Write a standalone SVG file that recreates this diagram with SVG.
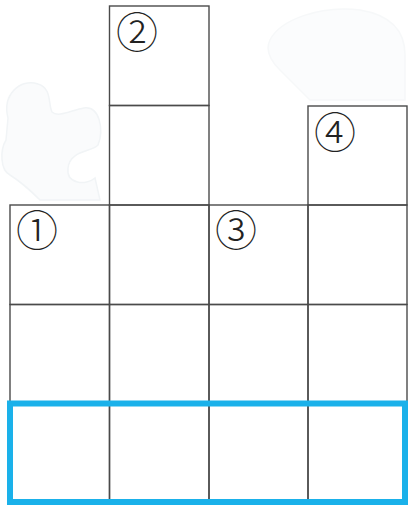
<svg xmlns="http://www.w3.org/2000/svg" width="408" height="506" viewBox="0 0 408 506">
<style>
.g{fill:none;stroke:#4a4a4a;stroke-width:1.4}
.n{font-family:"Noto Sans CJK SC","DejaVu Sans",sans-serif;font-size:42px;font-weight:300;fill:#222;text-anchor:middle;dominant-baseline:central}
.bg{fill:#fafbfc;stroke:#f1f4f6;stroke-width:1.5}
</style>
<rect width="408" height="506" fill="#fff"/>
<g id="background">
<path class="bg" d="M8,118 C2,95 20,78 38,84 C52,88 48,104 52,112 C58,118 72,110 84,108 C100,106 104,130 98,145 C92,152 70,150 68,168 C66,184 86,186 95,178 L100,200 L40,200 C30,190 18,180 10,175 C0,170 0,150 6,140 Z"/>
<path class="bg" d="M270,40 C280,20 320,5 360,10 C390,15 405,30 405,55 L405,100 L310,100 C300,90 290,80 280,70 C270,60 265,50 270,40 Z" opacity="0.6"/>
</g>
<g id="grid">
<rect class="g" x="109.5" y="6" width="99.5" height="99.5"/>
<rect class="g" x="109.5" y="105.5" width="99.5" height="99.5"/>
<rect class="g" x="308" y="106" width="99" height="99"/>
<rect class="g" x="10" y="205" width="99.5" height="99.5"/>
<rect class="g" x="109.5" y="205" width="99.5" height="99.5"/>
<rect class="g" x="209" y="205" width="99" height="99.5"/>
<rect class="g" x="308" y="205" width="99" height="99.5"/>
<rect class="g" x="10" y="304.5" width="99.5" height="99"/>
<rect class="g" x="109.5" y="304.5" width="99.5" height="99"/>
<rect class="g" x="209" y="304.5" width="99" height="99"/>
<rect class="g" x="308" y="304.5" width="99" height="99"/>
<rect class="g" x="10" y="403.5" width="99.5" height="98.5"/>
<rect class="g" x="109.5" y="403.5" width="99.5" height="98.5"/>
<rect class="g" x="209" y="403.5" width="99" height="98.5"/>
<rect class="g" x="308" y="403.5" width="99" height="98.5"/>
</g>
<g id="labels">
<text class="n" x="137" y="29">②</text>
<text class="n" x="37" y="227">①</text>
<text class="n" x="236" y="227">③</text>
<text class="n" x="335" y="129">④</text>
</g>
<g id="highlight">
<rect x="10" y="403.5" width="395" height="98.5" fill="none" stroke="#1ab1ea" stroke-width="6"/>
</g>
</svg>
